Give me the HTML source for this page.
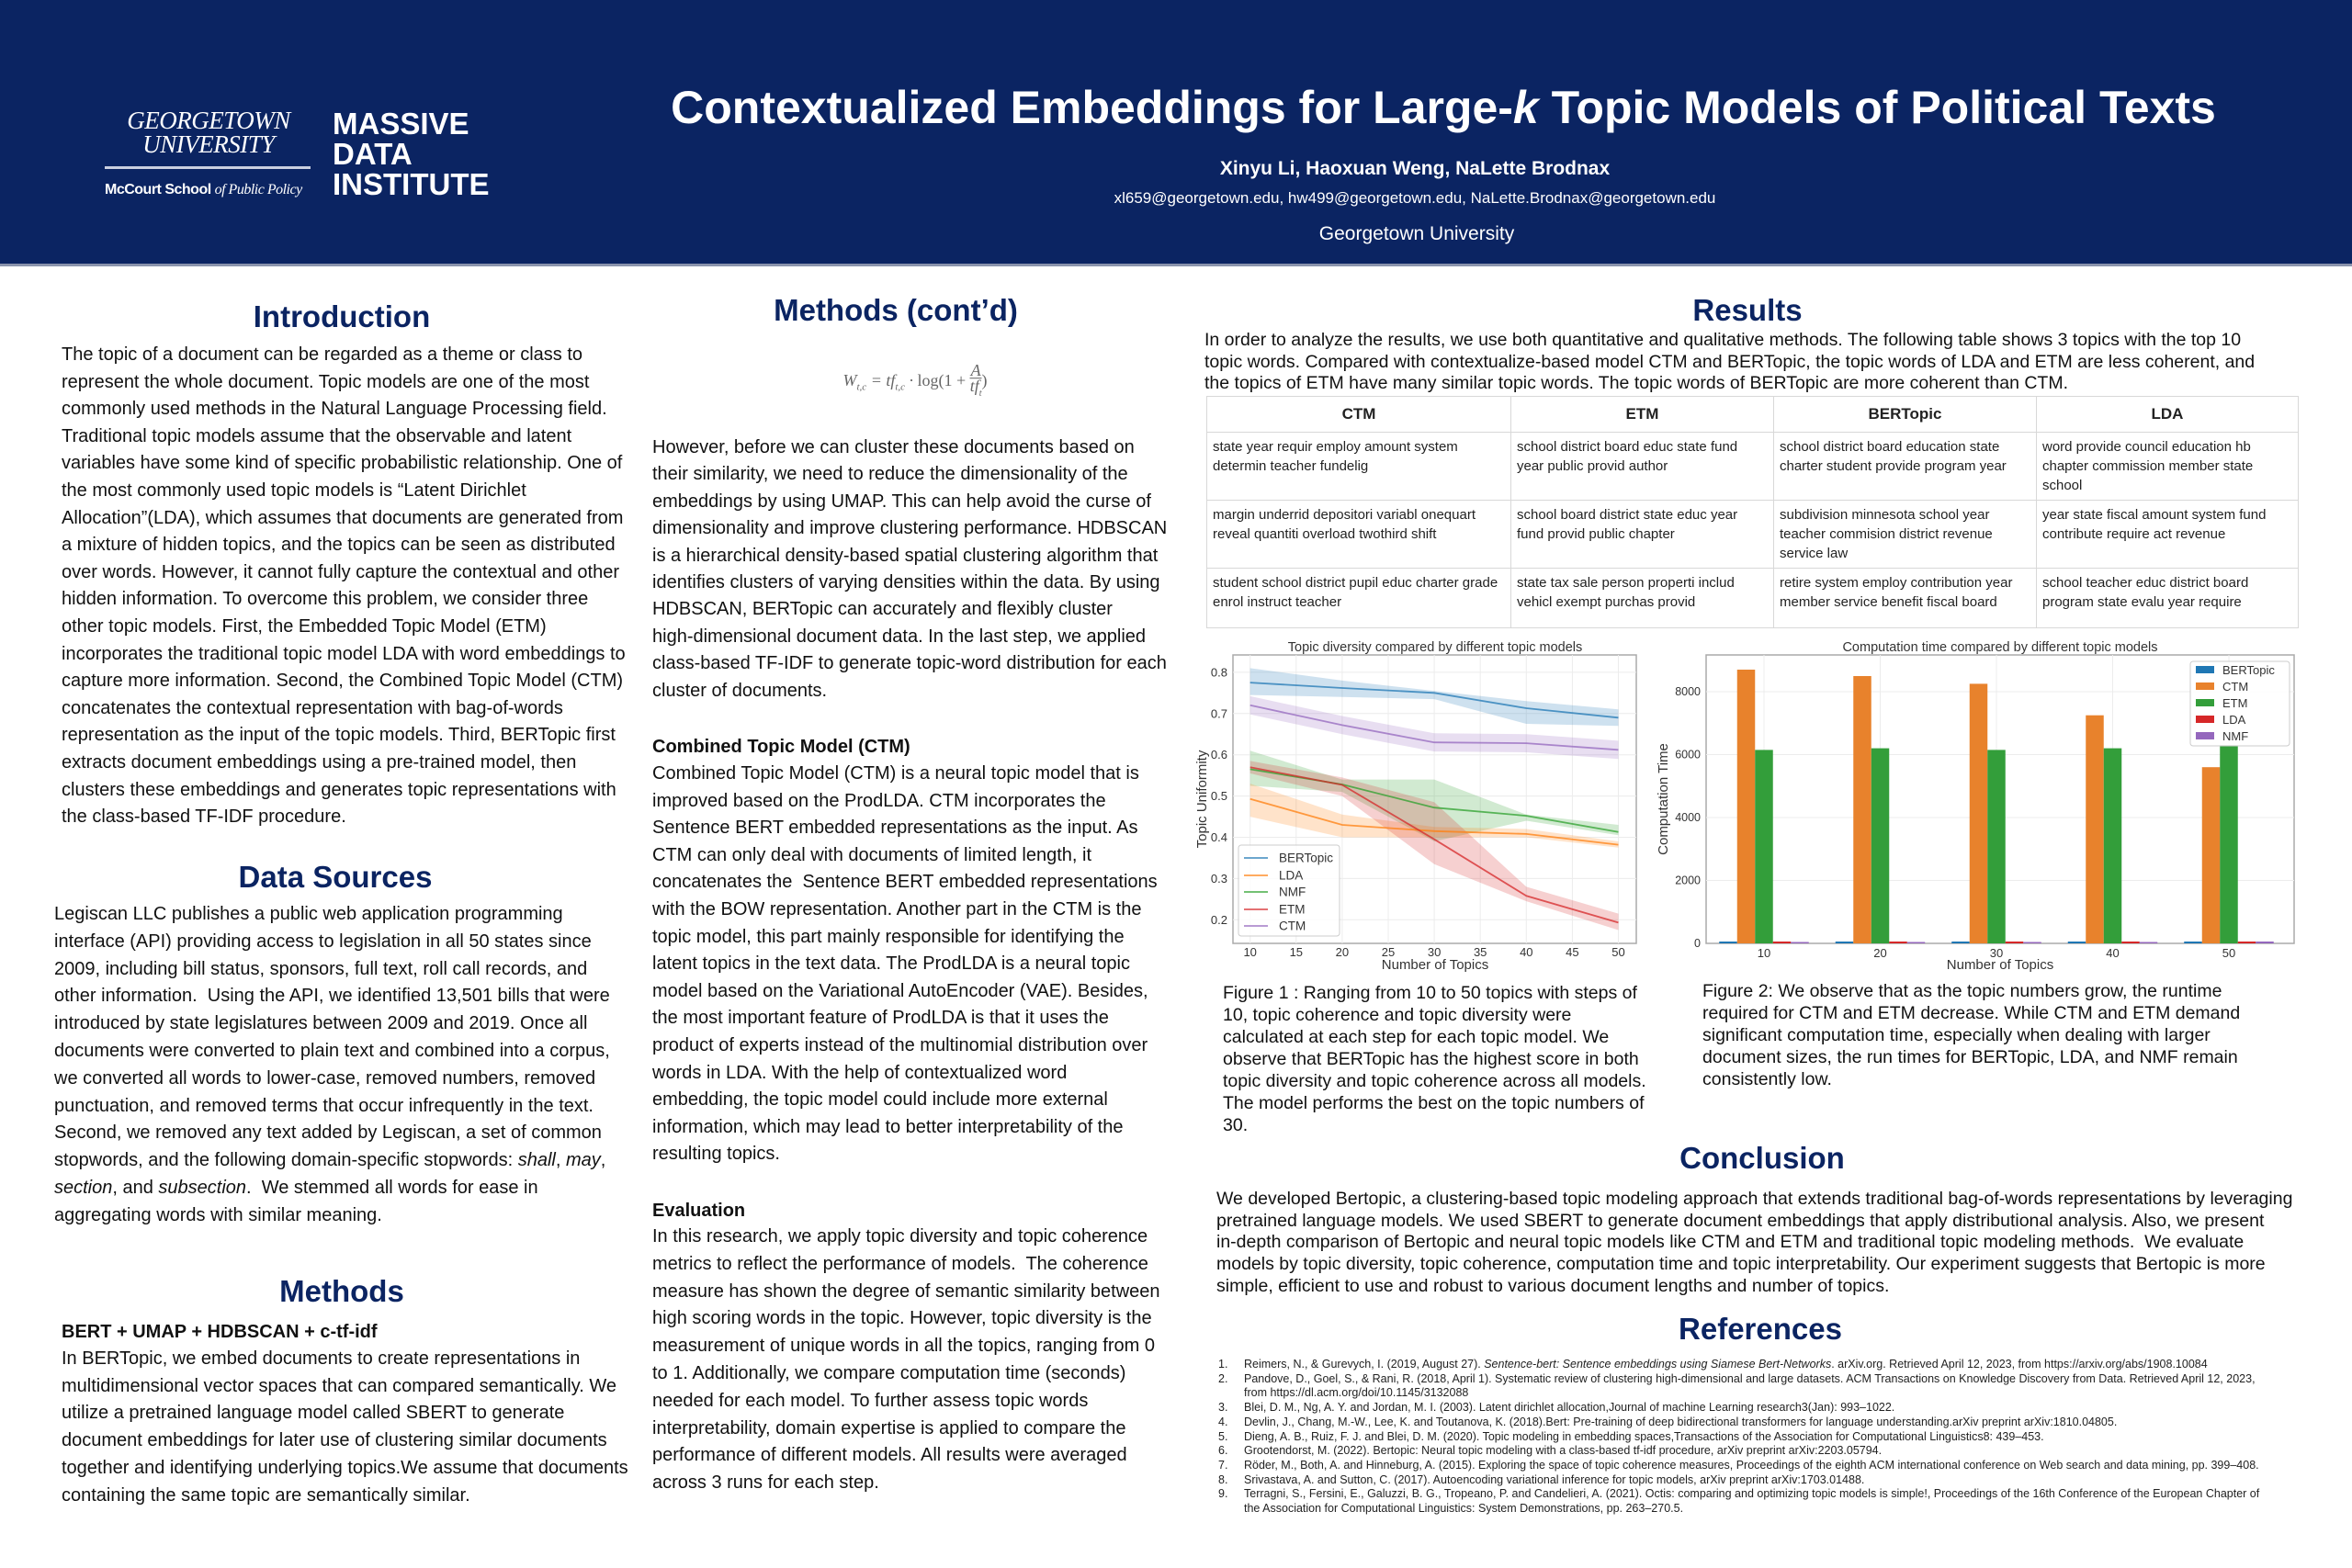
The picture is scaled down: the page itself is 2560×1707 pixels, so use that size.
<!DOCTYPE html>
<html><head><meta charset="utf-8"><style>
*{margin:0;padding:0;box-sizing:border-box}
body{width:2560px;height:1707px;background:#fff;position:relative;overflow:hidden;font-family:"Liberation Sans",Arial,sans-serif;color:#111}
.a{position:absolute;white-space:nowrap}
.hd{position:absolute;left:0;top:0;width:2560px;height:290px;background:#0b2462;border-bottom:3px solid #8a93ad}
.h{position:absolute;font-weight:bold;font-size:33px;color:#0b2462;transform:translate(-50%,-50%);white-space:nowrap}
.t{position:absolute;font-size:20px;white-space:nowrap}
.b{font-weight:bold}
table{position:absolute;left:1313px;top:431px;width:1189px;border-collapse:collapse;font-size:15px;color:#222}
td,th{border:1.5px solid #d8d8d8;vertical-align:top;padding:5px 6px;line-height:1.4;text-align:left;font-weight:normal}
th{text-align:center;font-weight:bold;font-size:17px;vertical-align:middle;height:39px}
.ref{position:absolute;left:1326px;top:1478px;font-size:12.5px;line-height:15.7px;color:#222;white-space:nowrap}
.ref div{position:relative;padding-left:28px}
.ref span{position:absolute;left:0}
</style></head><body>
<div class="hd"></div>
<div class="a" style="left:114px;top:118px;font-family:'Liberation Serif',serif;font-style:italic;color:#fff;font-size:27px;line-height:26px;text-align:center;width:226px;letter-spacing:-0.5px">GEORGETOWN<br>UNIVERSITY</div>
<div class="a" style="left:114px;top:181px;width:224px;height:3px;background:#c9cfe0"></div>
<div class="a" style="left:114px;top:198px;color:#fff;font-size:16px;font-weight:bold;letter-spacing:-0.5px">McCourt School <i style="font-family:'Liberation Serif',serif;font-weight:normal">of Public Policy</i></div>
<div class="a" style="left:362px;top:118px;color:#fff;font-size:33px;font-weight:bold;line-height:33px">MASSIVE<br>DATA<br>INSTITUTE</div>
<div class="a" style="left:1571px;top:117px;transform:translate(-50%,-50%);color:#fff;font-size:50px;font-weight:bold">Contextualized Embeddings for Large-<i>k</i> Topic Models of Political Texts</div>
<div class="a" style="left:1540px;top:184px;transform:translate(-50%,-50%);color:#fff;font-size:21px;font-weight:bold">Xinyu Li, Haoxuan Weng, NaLette Brodnax</div>
<div class="a" style="left:1540px;top:216px;transform:translate(-50%,-50%);color:#fff;font-size:17px">xl659@georgetown.edu, hw499@georgetown.edu, NaLette.Brodnax@georgetown.edu</div>
<div class="a" style="left:1542px;top:255px;transform:translate(-50%,-50%);color:#fff;font-size:21px">Georgetown University</div>

<div class="h" style="left:372px;top:345px">Introduction</div>
<div class="t" style="left:67px;top:372px;line-height:29.6px">The topic of a document can be regarded as a theme or class to<br>represent the whole document. Topic models are one of the most<br>commonly used methods in the Natural Language Processing field.<br>Traditional topic models assume that the observable and latent<br>variables have some kind of specific probabilistic relationship. One of<br>the most commonly used topic models is “Latent Dirichlet<br>Allocation”(LDA), which assumes that documents are generated from<br>a mixture of hidden topics, and the topics can be seen as distributed<br>over words. However, it cannot fully capture the contextual and other<br>hidden information. To overcome this problem, we consider three<br>other topic models. First, the Embedded Topic Model (ETM)<br>incorporates the traditional topic model LDA with word embeddings to<br>capture more information. Second, the Combined Topic Model (CTM)<br>concatenates the contextual representation with bag-of-words<br>representation as the input of the topic models. Third, BERTopic first<br>extracts document embeddings using a pre-trained model, then<br>clusters these embeddings and generates topic representations with<br>the class-based TF-IDF procedure.</div>

<div class="h" style="left:365px;top:955px">Data Sources</div>
<div class="t" style="left:59px;top:981px;line-height:29.8px">Legiscan LLC publishes a public web application programming<br>interface (API) providing access to legislation in all 50 states since<br>2009, including bill status, sponsors, full text, roll call records, and<br>other information.&nbsp; Using the API, we identified 13,501 bills that were<br>introduced by state legislatures between 2009 and 2019. Once all<br>documents were converted to plain text and combined into a corpus,<br>we converted all words to lower-case, removed numbers, removed<br>punctuation, and removed terms that occur infrequently in the text.<br>Second, we removed any text added by Legiscan, a set of common<br>stopwords, and the following domain-specific stopwords: <i>shall</i>, <i>may</i>,<br><i>section</i>, and <i>subsection</i>.&nbsp; We stemmed all words for ease in<br>aggregating words with similar meaning.</div>

<div class="h" style="left:372px;top:1406px">Methods</div>
<div class="t b" style="left:67px;top:1436px;line-height:29px">BERT + UMAP + HDBSCAN + c-tf-idf</div>
<div class="t" style="left:67px;top:1465px;line-height:29.7px">In BERTopic, we embed documents to create representations in<br>multidimensional vector spaces that can compared semantically. We<br>utilize a pretrained language model called SBERT to generate<br>document embeddings for later use of clustering similar documents<br>together and identifying underlying topics.We assume that documents<br>containing the same topic are semantically similar.</div>

<div class="h" style="left:975px;top:338px">Methods (cont’d)</div>
<div class="a" style="left:996px;top:416px;transform:translate(-50%,-50%);font-family:'Liberation Serif',serif;font-style:italic;color:#666;font-size:18px">W<sub style="font-size:11px">t,c</sub> = tf<sub style="font-size:11px">t,c</sub> · <span style="font-style:normal">log(1 +</span> <span style="display:inline-block;vertical-align:middle;text-align:center;line-height:16px"><span style="display:block;border-bottom:1px solid #666">A</span><span style="display:block">tf<sub style="font-size:10px">t</sub></span></span><span style="font-style:normal">)</span></div>
<div class="t" style="left:710px;top:473px;line-height:29.4px">However, before we can cluster these documents based on<br>their similarity, we need to reduce the dimensionality of the<br>embeddings by using UMAP. This can help avoid the curse of<br>dimensionality and improve clustering performance. HDBSCAN<br>is a hierarchical density-based spatial clustering algorithm that<br>identifies clusters of varying densities within the data. By using<br>HDBSCAN, BERTopic can accurately and flexibly cluster<br>high-dimensional document data. In the last step, we applied<br>class-based TF-IDF to generate topic-word distribution for each<br>cluster of documents.</div>
<div class="t b" style="left:710px;top:799px;line-height:29px">Combined Topic Model (CTM)</div>
<div class="t" style="left:710px;top:828px;line-height:29.6px">Combined Topic Model (CTM) is a neural topic model that is<br>improved based on the ProdLDA. CTM incorporates the<br>Sentence BERT embedded representations as the input. As<br>CTM can only deal with documents of limited length, it<br>concatenates the&nbsp; Sentence BERT embedded representations<br>with the BOW representation. Another part in the CTM is the<br>topic model, this part mainly responsible for identifying the<br>latent topics in the text data. The ProdLDA is a neural topic<br>model based on the Variational AutoEncoder (VAE). Besides,<br>the most important feature of ProdLDA is that it uses the<br>product of experts instead of the multinomial distribution over<br>words in LDA. With the help of contextualized word<br>embedding, the topic model could include more external<br>information, which may lead to better interpretability of the<br>resulting topics.</div>
<div class="t b" style="left:710px;top:1304px;line-height:29px">Evaluation</div>
<div class="t" style="left:710px;top:1332px;line-height:29.8px">In this research, we apply topic diversity and topic coherence<br>metrics to reflect the performance of models.&nbsp; The coherence<br>measure has shown the degree of semantic similarity between<br>high scoring words in the topic. However, topic diversity is the<br>measurement of unique words in all the topics, ranging from 0<br>to 1. Additionally, we compare computation time (seconds)<br>needed for each model. To further assess topic words<br>interpretability, domain expertise is applied to compare the<br>performance of different models. All results were averaged<br>across 3 runs for each step.</div>

<div class="h" style="left:1902px;top:338px">Results</div>
<div class="t" style="left:1311px;top:359px;line-height:23.7px;font-size:19.5px">In order to analyze the results, we use both quantitative and qualitative methods. The following table shows 3 topics with the top 10<br>topic words. Compared with contextualize-based model CTM and BERTopic, the topic words of LDA and ETM are less coherent, and<br>the topics of ETM have many similar topic words. The topic words of BERTopic are more coherent than CTM.</div>
<table>
<tr><th style="width:331px">CTM</th><th style="width:286px">ETM</th><th style="width:286px">BERTopic</th><th>LDA</th></tr>
<tr style="height:72px"><td>state year requir employ amount system determin teacher fundelig</td><td>school district board educ state fund year public provid author</td><td>school district board education state charter student provide program year</td><td>word provide council education hb chapter commission member state school</td></tr>
<tr style="height:72px"><td>margin underrid depositori variabl onequart reveal quantiti overload twothird shift</td><td>school board district state educ year fund provid public chapter</td><td>subdivision minnesota school year teacher commision district revenue service law</td><td>year state fiscal amount system fund contribute require act revenue</td></tr>
<tr style="height:65px"><td>student school district pupil educ charter grade enrol instruct teacher</td><td>state tax sale person properti includ vehicl exempt purchas provid</td><td>retire system employ contribution year member service benefit fiscal board</td><td>school teacher educ district board program state evalu year require</td></tr>
</table>

<svg class="a" style="left:0;top:0" width="2560" height="1707" font-family="Liberation Sans, sans-serif">
<text x="1562" y="709" font-size="14.5" text-anchor="middle" fill="#333">Topic diversity compared by different topic models</text>
<rect x="1342" y="713" width="439" height="314" fill="#fff" stroke="#aaa" stroke-width="1.5"/>
<g stroke="#ececec" stroke-width="1">
<line x1="1360.7" y1="713" x2="1360.7" y2="1027"/><line x1="1410.8" y1="713" x2="1410.8" y2="1027"/><line x1="1460.9" y1="713" x2="1460.9" y2="1027"/><line x1="1511" y1="713" x2="1511" y2="1027"/><line x1="1561.1" y1="713" x2="1561.1" y2="1027"/><line x1="1611.2" y1="713" x2="1611.2" y2="1027"/><line x1="1661.3" y1="713" x2="1661.3" y2="1027"/><line x1="1711.4" y1="713" x2="1711.4" y2="1027"/><line x1="1761.5" y1="713" x2="1761.5" y2="1027"/>
<line x1="1342" y1="1001.3" x2="1781" y2="1001.3"/><line x1="1342" y1="956.4" x2="1781" y2="956.4"/><line x1="1342" y1="911.5" x2="1781" y2="911.5"/><line x1="1342" y1="866.6" x2="1781" y2="866.6"/><line x1="1342" y1="821.7" x2="1781" y2="821.7"/><line x1="1342" y1="776.8" x2="1781" y2="776.8"/><line x1="1342" y1="731.9" x2="1781" y2="731.9"/>
</g>
<g fill-opacity="0.22">
<polygon fill="#1f77b4" points="1360.7,727.4 1460.9,740.9 1561.1,752.1 1661.3,763.3 1761.5,772.3 1761.5,790.3 1661.3,788 1561.1,761.1 1460.9,758.8 1360.7,756.6"/>
<polygon fill="#9467bd" points="1360.7,757.9 1460.9,779.5 1561.1,798.3 1661.3,799.2 1761.5,806.4 1761.5,826.2 1661.3,819 1561.1,818.1 1460.9,799.3 1360.7,777.7"/>
<polygon fill="#2ca02c" points="1360.7,817.2 1460.9,848.6 1561.1,848.6 1661.3,886.8 1761.5,898 1761.5,909.3 1661.3,893.5 1561.1,916 1460.9,862.1 1360.7,855.4"/>
<polygon fill="#ff7f0e" points="1360.7,853.1 1460.9,886.8 1561.1,900.3 1661.3,902.5 1761.5,916 1761.5,922.7 1661.3,911.5 1561.1,911.5 1460.9,911.5 1360.7,889.1"/>
<polygon fill="#d62728" points="1360.7,828.4 1460.9,846.4 1561.1,873.3 1661.3,965.4 1761.5,994.6 1761.5,1012.5 1661.3,981.1 1561.1,940.7 1460.9,866.6 1360.7,841.9"/>
</g>
<g fill="none" stroke-width="1.8" stroke-opacity="0.75">
<polyline stroke="#1f77b4" points="1360.7,743.1 1460.9,749 1561.1,754.3 1661.3,771 1761.5,781.3"/>
<polyline stroke="#9467bd" points="1360.7,767.8 1460.9,789.4 1561.1,808.2 1661.3,809.1 1761.5,816.3"/>
<polyline stroke="#2ca02c" points="1360.7,837.4 1460.9,854 1561.1,879.2 1661.3,888.1 1761.5,905.7"/>
<polyline stroke="#ff7f0e" points="1360.7,869.7 1460.9,898 1561.1,904.8 1661.3,907.9 1761.5,919.6"/>
<polyline stroke="#d62728" points="1360.7,835.2 1460.9,854.5 1561.1,913.7 1661.3,975.3 1761.5,1004.4"/>
</g>
<g font-size="13" fill="#333" text-anchor="end">
<text x="1336" y="1005.8">0.2</text><text x="1336" y="960.9">0.3</text><text x="1336" y="916">0.4</text><text x="1336" y="871.1">0.5</text><text x="1336" y="826.2">0.6</text><text x="1336" y="781.3">0.7</text><text x="1336" y="736.4">0.8</text>
</g>
<g font-size="13" fill="#333" text-anchor="middle">
<text x="1360.7" y="1041">10</text><text x="1410.8" y="1041">15</text><text x="1460.9" y="1041">20</text><text x="1511" y="1041">25</text><text x="1561.1" y="1041">30</text><text x="1611.2" y="1041">35</text><text x="1661.3" y="1041">40</text><text x="1711.4" y="1041">45</text><text x="1761.5" y="1041">50</text>
</g>
<text x="1562" y="1055" font-size="15" fill="#333" text-anchor="middle">Number of Topics</text>
<text transform="translate(1313,870) rotate(-90)" font-size="15" fill="#333" text-anchor="middle">Topic Uniformity</text>
<rect x="1348" y="920" width="110" height="99" fill="#fff" fill-opacity="0.85" stroke="#ccc" rx="3"/>
<g stroke-width="1.8" stroke-opacity="0.75">
<line x1="1354" y1="934" x2="1380" y2="934" stroke="#1f77b4"/><line x1="1354" y1="953" x2="1380" y2="953" stroke="#ff7f0e"/><line x1="1354" y1="971" x2="1380" y2="971" stroke="#2ca02c"/><line x1="1354" y1="990" x2="1380" y2="990" stroke="#d62728"/><line x1="1354" y1="1008" x2="1380" y2="1008" stroke="#9467bd"/>
</g>
<g font-size="13.5" fill="#333">
<text x="1392" y="938.5">BERTopic</text><text x="1392" y="957.5">LDA</text><text x="1392" y="975.5">NMF</text><text x="1392" y="994.5">ETM</text><text x="1392" y="1012.5">CTM</text>
</g>

<text x="2177" y="709" font-size="14.5" text-anchor="middle" fill="#333">Computation time compared by different topic models</text>
<rect x="1857" y="713" width="640" height="314" fill="#fff" stroke="#aaa" stroke-width="1.5"/>
<g stroke="#ececec"><line x1="1857" y1="958.5" x2="2497" y2="958.5"/><line x1="1857" y1="890" x2="2497" y2="890"/><line x1="1857" y1="821.5" x2="2497" y2="821.5"/><line x1="1857" y1="753" x2="2497" y2="753"/>
<line x1="1920" y1="713" x2="1920" y2="1027"/><line x1="2046.5" y1="713" x2="2046.5" y2="1027"/><line x1="2173" y1="713" x2="2173" y2="1027"/><line x1="2299.5" y1="713" x2="2299.5" y2="1027"/><line x1="2426" y1="713" x2="2426" y2="1027"/></g>
<g>
<rect x="1871.25" y="1025" width="19.5" height="2" fill="#1f77b4"/><rect x="1890.75" y="729" width="19.5" height="298" fill="#e8822c"/><rect x="1910.25" y="816.4" width="19.5" height="210.6" fill="#339e3a"/><rect x="1929.75" y="1025" width="19.5" height="2" fill="#d62728"/><rect x="1949.25" y="1025.5" width="19.5" height="1.5" fill="#9467bd"/>
<rect x="1997.75" y="1025" width="19.5" height="2" fill="#1f77b4"/><rect x="2017.25" y="736" width="19.5" height="291" fill="#e8822c"/><rect x="2036.75" y="814.6" width="19.5" height="212.4" fill="#339e3a"/><rect x="2056.25" y="1025" width="19.5" height="2" fill="#d62728"/><rect x="2075.75" y="1025.5" width="19.5" height="1.5" fill="#9467bd"/>
<rect x="2124.25" y="1025" width="19.5" height="2" fill="#1f77b4"/><rect x="2143.75" y="744.4" width="19.5" height="282.6" fill="#e8822c"/><rect x="2163.25" y="816.4" width="19.5" height="210.6" fill="#339e3a"/><rect x="2182.75" y="1025" width="19.5" height="2" fill="#d62728"/><rect x="2202.25" y="1025.5" width="19.5" height="1.5" fill="#9467bd"/>
<rect x="2250.75" y="1025" width="19.5" height="2" fill="#1f77b4"/><rect x="2270.25" y="778.7" width="19.5" height="248.3" fill="#e8822c"/><rect x="2289.75" y="814.6" width="19.5" height="212.4" fill="#339e3a"/><rect x="2309.25" y="1025" width="19.5" height="2" fill="#d62728"/><rect x="2328.75" y="1025.5" width="19.5" height="1.5" fill="#9467bd"/>
<rect x="2377.25" y="1025" width="19.5" height="2" fill="#1f77b4"/><rect x="2396.75" y="835.2" width="19.5" height="191.8" fill="#e8822c"/><rect x="2416.25" y="811.2" width="19.5" height="215.8" fill="#339e3a"/><rect x="2435.75" y="1025" width="19.5" height="2" fill="#d62728"/><rect x="2455.25" y="1025" width="19.5" height="2" fill="#9467bd"/>
</g>
<g font-size="12.5" fill="#333" text-anchor="end">
<text x="1851" y="1031">0</text><text x="1851" y="962.5">2000</text><text x="1851" y="894">4000</text><text x="1851" y="825.5">6000</text><text x="1851" y="757">8000</text>
</g>
<g font-size="13" fill="#333" text-anchor="middle">
<text x="1920" y="1042">10</text><text x="2046.5" y="1042">20</text><text x="2173" y="1042">30</text><text x="2299.5" y="1042">40</text><text x="2426" y="1042">50</text>
</g>
<text x="2177" y="1055" font-size="15" fill="#333" text-anchor="middle">Number of Topics</text>
<text transform="translate(1815,870) rotate(-90)" font-size="15" fill="#333" text-anchor="middle">Computation Time</text>
<rect x="2384" y="720" width="108" height="92" fill="#fff" fill-opacity="0.85" stroke="#ccc" rx="3"/>
<rect x="2390" y="725" width="20" height="8" fill="#1f77b4"/><rect x="2390" y="743" width="20" height="8" fill="#e8822c"/><rect x="2390" y="761" width="20" height="8" fill="#339e3a"/><rect x="2390" y="779" width="20" height="8" fill="#d62728"/><rect x="2390" y="797" width="20" height="8" fill="#9467bd"/>
<g font-size="13" fill="#333"><text x="2419" y="734">BERTopic</text><text x="2419" y="752">CTM</text><text x="2419" y="770">ETM</text><text x="2419" y="788">LDA</text><text x="2419" y="806">NMF</text></g>
</svg>

<div class="t" style="left:1331px;top:1069px;line-height:24px;font-size:19.5px">Figure 1 : Ranging from 10 to 50 topics with steps of<br>10, topic coherence and topic diversity were<br>calculated at each step for each topic model. We<br>observe that BERTopic has the highest score in both<br>topic diversity and topic coherence across all models.<br>The model performs the best on the topic numbers of<br>30.</div>
<div class="t" style="left:1853px;top:1067px;line-height:24px;font-size:19.5px">Figure 2: We observe that as the topic numbers grow, the runtime<br>required for CTM and ETM decrease. While CTM and ETM demand<br>significant computation time, especially when dealing with larger<br>document sizes, the run times for BERTopic, LDA, and NMF remain<br>consistently low.</div>

<div class="h" style="left:1918px;top:1261px">Conclusion</div>
<div class="t" style="left:1324px;top:1294px;line-height:23.7px;font-size:19.5px">We developed Bertopic, a clustering-based topic modeling approach that extends traditional bag-of-words representations by leveraging<br>pretrained language models. We used SBERT to generate document embeddings that apply distributional analysis. Also, we present<br>in-depth comparison of Bertopic and neural topic models like CTM and ETM and traditional topic modeling methods.&nbsp; We evaluate<br>models by topic diversity, topic coherence, computation time and topic interpretability. Our experiment suggests that Bertopic is more<br>simple, efficient to use and robust to various document lengths and number of topics.</div>

<div class="h" style="left:1916px;top:1447px">References</div>
<div class="ref">
<div><span>1.</span>Reimers, N., &amp; Gurevych, I. (2019, August 27). <i>Sentence-bert: Sentence embeddings using Siamese Bert-Networks</i>. arXiv.org. Retrieved April 12, 2023, from https://arxiv.org/abs/1908.10084</div>
<div><span>2.</span>Pandove, D., Goel, S., &amp; Rani, R. (2018, April 1). Systematic review of clustering high-dimensional and large datasets. ACM Transactions on Knowledge Discovery from Data. Retrieved April 12, 2023,<br>from https://dl.acm.org/doi/10.1145/3132088</div>
<div><span>3.</span>Blei, D. M., Ng, A. Y. and Jordan, M. I. (2003). Latent dirichlet allocation,Journal of machine Learning research3(Jan): 993–1022.</div>
<div><span>4.</span>Devlin, J., Chang, M.-W., Lee, K. and Toutanova, K. (2018).Bert: Pre-training of deep bidirectional transformers for language understanding.arXiv preprint arXiv:1810.04805.</div>
<div><span>5.</span>Dieng, A. B., Ruiz, F. J. and Blei, D. M. (2020). Topic modeling in embedding spaces,Transactions of the Association for Computational Linguistics8: 439–453.</div>
<div><span>6.</span>Grootendorst, M. (2022). Bertopic: Neural topic modeling with a class-based tf-idf procedure, arXiv preprint arXiv:2203.05794.</div>
<div><span>7.</span>Röder, M., Both, A. and Hinneburg, A. (2015). Exploring the space of topic coherence measures, Proceedings of the eighth ACM international conference on Web search and data mining, pp. 399–408.</div>
<div><span>8.</span>Srivastava, A. and Sutton, C. (2017). Autoencoding variational inference for topic models, arXiv preprint arXiv:1703.01488.</div>
<div><span>9.</span>Terragni, S., Fersini, E., Galuzzi, B. G., Tropeano, P. and Candelieri, A. (2021). Octis: comparing and optimizing topic models is simple!, Proceedings of the 16th Conference of the European Chapter of<br>the Association for Computational Linguistics: System Demonstrations, pp. 263–270.5.</div>
</div>
</body></html>
